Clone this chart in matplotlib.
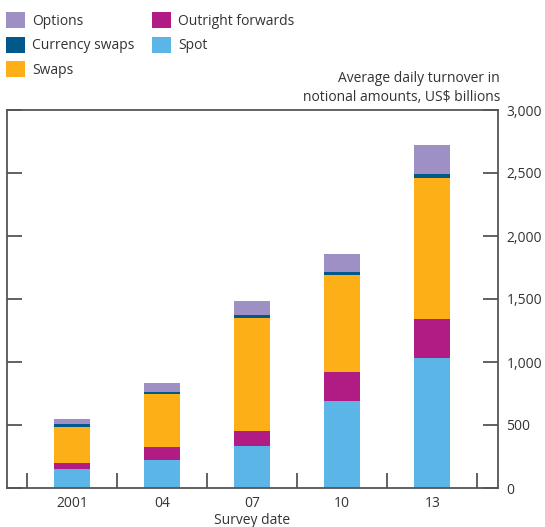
import matplotlib.pyplot as plt
import numpy as np

plt.rcParams['font.family'] = ['Open Sans', 'DejaVu Sans']

# Datos (US$ miles de millones, por capa)
fechas = ["2001", "04", "07", "10", "13"]
spot = [148, 220, 331, 688, 1032]
outright = [48, 103, 119, 230, 307]
swaps = [286, 421, 897, 772, 1118]
currency_swaps = [24, 14, 24, 22, 33]
options = [39, 73, 111, 143, 230]

series = [
    ("Spot", spot, "#5BB5E6"),
    ("Outright forwards", outright, "#B01C84"),
    ("Swaps", swaps, "#FCAF17"),
    ("Currency swaps", currency_swaps, "#00598A"),
    ("Options", options, "#9E8FC4"),
]

gris = "#555555"
texto = "#333333"

fig = plt.figure(figsize=(5.45, 5.27), dpi=100)
ax = fig.add_axes([7 / 545, 39 / 527, 491 / 545, 378 / 527])

x = np.arange(len(fechas))
base = np.zeros(len(fechas))
barras = {}
for nombre, valores, color in series:
    barras[nombre] = ax.bar(x, valores, bottom=base, width=0.4, color=color, label=nombre)
    base += np.array(valores)

ax.set_xlim(-0.72, 4.73)
ax.set_ylim(0, 3000)

# Ejes
for lado in ["left", "right", "top", "bottom"]:
    ax.spines[lado].set_color(gris)
    ax.spines[lado].set_linewidth(1.3)

ax.yaxis.tick_right()
ax.set_yticks(np.arange(0, 3001, 500))
ax.set_yticklabels(["0", "500", "1,000", "1,500", "2,000", "2,500", "3,000"])
ax.tick_params(axis="y", which="major", direction="in", length=10.5, width=1.3,
               color=gris, left=True, right=True, labelleft=False, labelright=True,
               labelsize=10, labelcolor=texto, pad=6)

ax.set_xticks(x)
ax.set_xticklabels(fechas)
ax.set_xticks(np.arange(-0.5, 4.6, 1), minor=True)
ax.tick_params(axis="x", which="major", length=0, labelsize=10, labelcolor=texto, pad=6)
ax.tick_params(axis="x", which="minor", direction="in", length=10.5, width=1.3, color=gris)
ax.set_xlabel("Survey date", fontsize=10, color=texto, labelpad=1)

fig.text(500 / 545, 1 - 88 / 527, "Average daily turnover in\nnotional amounts, US$ billions",
         ha="right", va="center", fontsize=10, color=texto, linespacing=1.3)

# Leyenda
orden = ["Options", "Currency swaps", "Swaps", "Outright forwards", "Spot"]
fig.legend([barras[n] for n in orden], orden, ncol=2, loc="upper left",
           bbox_to_anchor=(6 / 545, 1 - 12 / 527), frameon=False, borderpad=0,
           fontsize=10, labelcolor=texto, handlelength=1.37, handleheight=1.4,
           handletextpad=0.5, columnspacing=1.3, labelspacing=0.58, borderaxespad=0)

fig.savefig("out.png", dpi=100)
